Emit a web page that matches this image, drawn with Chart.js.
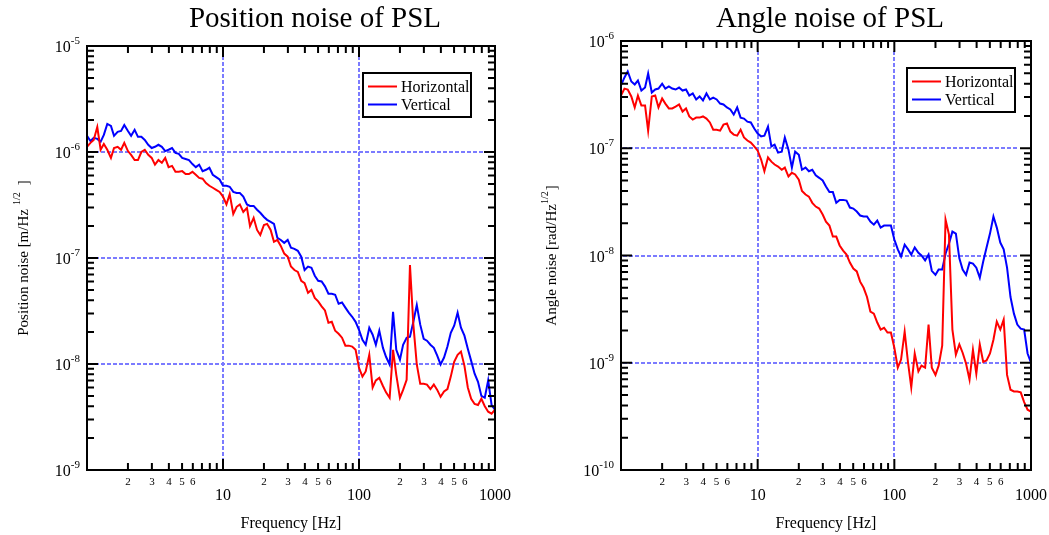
<!DOCTYPE html>
<html>
<head>
<meta charset="utf-8">
<title>PSL noise</title>
<script src="https://cdn.jsdelivr.net/npm/chart.js@4.4.1/dist/chart.umd.min.js"></script>
<style>
  html, body { margin: 0; padding: 0; background: #fff; }
  #wrap { position: relative; width: 1049px; height: 535px; overflow: hidden; }
  .panel { position: absolute; top: 0; height: 535px; }
</style>
</head>
<body>
<div id="wrap">
  <div class="panel" style="left:0;width:524px"><canvas id="chart-pos" width="524" height="535"></canvas></div>
  <div class="panel" style="left:524px;width:525px"><canvas id="chart-ang" width="525" height="535"></canvas></div>
</div>
<script>
// =================================================================
// PSL noise spectra (position / angle), log-log
// =================================================================

// Frequency bins [Hz], shared by all four curves
const frequency = [
    1.00, 1.06, 1.12, 1.19, 1.26, 1.33, 1.41, 1.50, 1.58, 1.68,
    1.78, 1.88, 2.00, 2.11, 2.24, 2.37, 2.51, 2.66, 2.82, 2.99,
    3.16, 3.35, 3.55, 3.76, 3.98, 4.22, 4.47, 4.73, 5.01, 5.31,
    5.62, 5.96, 6.31, 6.68, 7.08, 7.50, 7.94, 8.41, 8.91, 9.44,
    10.0, 10.6, 11.2, 11.9, 12.6, 13.3, 14.1, 15.0, 15.8, 16.8,
    17.8, 18.8, 20.0, 21.1, 22.4, 23.7, 25.1, 26.6, 28.2, 29.9,
    31.6, 33.5, 35.5, 37.6, 39.8, 42.2, 44.7, 47.3, 50.1, 53.1,
    56.2, 59.6, 63.1, 66.8, 70.8, 75.0, 79.4, 84.1, 89.1, 94.4,
    100, 106, 112, 119, 126, 133, 141, 150, 158, 168,
    178, 188, 200, 211, 224, 237, 251, 266, 282, 299,
    316, 335, 355, 376, 398, 422, 447, 473, 501, 531,
    562, 596, 631, 668, 708, 750, 794, 841, 891, 944,
    1000
];

// Position noise [m/Hz^1/2]
const posHorizontal = [
    1.12e-6, 1.22e-6, 1.30e-6, 1.72e-6, 1.05e-6, 1.19e-6, 1.05e-6, 8.8e-7, 1.09e-6, 1.12e-6,
    1.05e-6, 1.22e-6, 1.02e-6, 9.4e-7, 8.4e-7, 8.4e-7, 1.0e-6, 1.05e-6, 9.4e-7, 8.8e-7,
    7.6e-7, 8.4e-7, 7.9e-7, 8.8e-7, 7.2e-7, 7.4e-7, 6.5e-7, 6.5e-7, 6.6e-7, 6.2e-7,
    6.2e-7, 6.5e-7, 6.1e-7, 5.7e-7, 5.6e-7, 5.1e-7, 4.8e-7, 4.6e-7, 4.4e-7, 4.2e-7,
    3.8e-7, 3.2e-7, 4.0e-7, 2.6e-7, 3.04e-7, 3.2e-7, 2.72e-7, 2.97e-7, 2.0e-7, 2.39e-7,
    1.84e-7, 1.65e-7, 2.05e-7, 2.10e-7, 1.84e-7, 1.42e-7, 1.48e-7, 1.30e-7, 1.10e-7, 1.03e-7,
    8.3e-8, 7.7e-8, 7.4e-8, 6.1e-8, 5.8e-8, 4.7e-8, 5.0e-8, 4.2e-8, 3.9e-8, 3.5e-8,
    3.2e-8, 2.45e-8, 2.5e-8, 2.06e-8, 1.93e-8, 1.77e-8, 1.49e-8, 1.49e-8, 1.46e-8, 1.36e-8,
    9.2e-9, 7.6e-9, 8.5e-9, 1.22e-8, 6.0e-9, 7.0e-9, 7.4e-9, 6.2e-9, 5.4e-9, 4.8e-9,
    1.36e-8, 7.9e-9, 4.8e-9, 5.7e-9, 7.1e-9, 8.6e-8, 2.35e-8, 9.9e-9, 6.5e-9, 6.5e-9,
    6.4e-9, 5.8e-9, 6.4e-9, 5.7e-9, 4.9e-9, 5.5e-9, 5.8e-9, 7.6e-9, 1.05e-8, 1.22e-8,
    1.31e-8, 9.6e-9, 6.0e-9, 4.7e-9, 4.2e-9, 4.1e-9, 4.7e-9, 4.0e-9, 3.55e-9, 3.4e-9,
    3.7e-9
];
const posVertical = [
    1.42e-6, 1.27e-6, 1.36e-6, 1.33e-6, 1.25e-6, 1.45e-6, 1.84e-6, 1.76e-6, 1.42e-6, 1.55e-6,
    1.58e-6, 1.80e-6, 1.58e-6, 1.42e-6, 1.62e-6, 1.39e-6, 1.39e-6, 1.30e-6, 1.17e-6, 1.09e-6,
    1.12e-6, 1.17e-6, 1.12e-6, 1.02e-6, 1.05e-6, 1.09e-6, 9.8e-7, 9.6e-7, 8.8e-7, 8.6e-7,
    8.4e-7, 7.7e-7, 7.2e-7, 7.6e-7, 6.6e-7, 6.8e-7, 7.1e-7, 6.1e-7, 5.8e-7, 5.5e-7,
    4.8e-7, 4.8e-7, 4.7e-7, 4.2e-7, 4.1e-7, 4.1e-7, 3.8e-7, 3.2e-7, 3.1e-7, 3.1e-7,
    2.85e-7, 2.67e-7, 2.44e-7, 2.29e-7, 2.19e-7, 2.10e-7, 1.55e-7, 1.48e-7, 1.39e-7, 1.48e-7,
    1.25e-7, 1.22e-7, 1.17e-7, 1.03e-7, 7.7e-8, 8.3e-8, 8.1e-8, 6.8e-8, 6.1e-8, 6.0e-8,
    5.4e-8, 4.6e-8, 4.6e-8, 4.5e-8, 3.7e-8, 3.8e-8, 3.4e-8, 3.05e-8, 2.79e-8, 2.5e-8,
    2.1e-8, 1.69e-8, 1.52e-8, 2.2e-8, 1.89e-8, 1.52e-8, 2.06e-8, 1.42e-8, 1.17e-8, 9.9e-9,
    3.1e-8, 1.36e-8, 1.1e-8, 1.52e-8, 1.77e-8, 1.81e-8, 2.5e-8, 3.6e-8, 2.35e-8, 1.73e-8,
    1.66e-8, 1.52e-8, 1.42e-8, 1.2e-8, 9.9e-9, 1.15e-8, 1.46e-8, 1.97e-8, 2.3e-8, 3.05e-8,
    2.2e-8, 1.85e-8, 1.39e-8, 1.07e-8, 8.1e-9, 6.8e-9, 5.0e-9, 4.8e-9, 7.0e-9, 4.1e-9,
    3.7e-9
];

// Angle noise [rad/Hz^1/2]
const angHorizontal = [
    3.1e-7, 3.6e-7, 3.53e-7, 3.04e-7, 2.4e-7, 3.1e-7, 2.5e-7, 2.5e-7, 1.46e-7, 3.04e-7,
    3.1e-7, 2.4e-7, 2.91e-7, 2.61e-7, 2.35e-7, 2.35e-7, 2.45e-7, 2.56e-7, 2.2e-7, 2.35e-7,
    1.98e-7, 1.85e-7, 1.93e-7, 1.93e-7, 1.98e-7, 1.89e-7, 1.74e-7, 1.49e-7, 1.49e-7, 1.46e-7,
    1.66e-7, 1.7e-7, 1.43e-7, 1.34e-7, 1.31e-7, 1.49e-7, 1.26e-7, 1.18e-7, 1.13e-7, 1.04e-7,
    9.5e-8, 7.85e-8, 6.1e-8, 8.2e-8, 7.5e-8, 7.05e-8, 6.75e-8, 6.3e-8, 6.6e-8, 5.45e-8,
    5.9e-8, 5.7e-8, 5.1e-8, 4.0e-8, 3.7e-8, 3.54e-8, 3.1e-8, 2.86e-8, 2.74e-8, 2.41e-8,
    2.07e-8, 1.9e-8, 1.5e-8, 1.5e-8, 1.24e-8, 1.11e-8, 1.02e-8, 8.6e-9, 7.55e-9, 7.1e-9,
    5.7e-9, 5.0e-9, 4.1e-9, 3.0e-9, 2.87e-9, 2.37e-9, 2.04e-9, 2.12e-9, 1.91e-9, 1.91e-9,
    1.38e-9, 9.0e-10, 1.07e-9, 1.95e-9, 1.0e-9, 5.9e-10, 1.22e-9, 8.3e-10, 9.4e-10, 9.0e-10,
    2.27e-9, 9.0e-10, 7.7e-10, 9.4e-10, 1.44e-9, 2.16e-8, 1.57e-8, 2.04e-9, 1.19e-9, 1.48e-9,
    1.24e-9, 9.8e-10, 6.95e-10, 1.32e-9, 7.9e-10, 1.48e-9, 1.02e-9, 1.05e-9, 1.22e-9, 1.64e-9,
    2.42e-9, 2.04e-9, 2.52e-9, 7.7e-10, 5.6e-10, 5.4e-10, 5.4e-10, 5.3e-10, 4.3e-10, 3.65e-10,
    3.5e-10
];
const angVertical = [
    3.85e-7, 4.57e-7, 5.2e-7, 4.19e-7, 3.93e-7, 4.28e-7, 3.45e-7, 3.68e-7, 4.98e-7, 3.31e-7,
    3.53e-7, 3.6e-7, 4.0e-7, 3.6e-7, 3.77e-7, 3.6e-7, 3.53e-7, 3.68e-7, 3.45e-7, 3.53e-7,
    3.1e-7, 3.24e-7, 2.85e-7, 3.04e-7, 2.79e-7, 3.24e-7, 2.85e-7, 2.97e-7, 2.85e-7, 2.61e-7,
    2.56e-7, 2.4e-7, 2.3e-7, 2.06e-7, 2.4e-7, 1.93e-7, 1.89e-7, 1.77e-7, 1.74e-7, 1.53e-7,
    1.37e-7, 1.29e-7, 1.31e-7, 1.59e-7, 1.04e-7, 1.08e-7, 9.1e-8, 9.3e-8, 1.26e-7, 9.7e-8,
    6.6e-8, 9.3e-8, 8.7e-8, 6.3e-8, 6.6e-8, 6.1e-8, 6.3e-8, 5.6e-8, 5.3e-8, 5.0e-8,
    4.4e-8, 3.9e-8, 3.9e-8, 3.1e-8, 3.3e-8, 3.3e-8, 3.25e-8, 2.8e-8, 2.74e-8, 2.57e-8,
    2.36e-8, 2.31e-8, 2.31e-8, 2.07e-8, 1.94e-8, 2.12e-8, 1.82e-8, 1.9e-8, 1.9e-8, 1.9e-8,
    1.41e-8, 1.14e-8, 9.8e-9, 1.26e-8, 1.14e-8, 1.02e-8, 1.19e-8, 1.06e-8, 1.0e-8, 9.0e-9,
    1.02e-8, 7.2e-9, 6.6e-9, 7.4e-9, 7.4e-9, 1.04e-8, 1.29e-8, 1.67e-8, 1.6e-8, 9.4e-9,
    7.4e-9, 6.6e-9, 8.6e-9, 8.4e-9, 7.7e-9, 6.2e-9, 8.8e-9, 1.19e-8, 1.6e-8, 2.31e-8,
    1.82e-8, 1.32e-8, 1.14e-8, 7.7e-9, 4.1e-9, 2.87e-9, 2.27e-9, 2.08e-9, 2.04e-9, 1.22e-9,
    1.0e-9
];

// Tick labels
const xMajorLabels = [10, 100, 1000];
const xMinorLabels = [2, 3, 4, 5, 6];
const posExponents = [-9, -8, -7, -6, -5];
const angExponents = [-10, -9, -8, -7, -6];

const SERIF = "'Liberation Serif', 'Times New Roman', serif";
const GRID_BLUE = 'rgba(100, 100, 255, 0.85)';

function toPoints(values) {
    return frequency.map((f, i) => ({ x: f, y: values[i] }));
}

function pow10(e) {
    return parseFloat('1e' + e);
}

// 2..9 x 10^e for every decade between lo and hi
function minorValues(lo, hi) {
    const out = [];
    for (let e = lo; e < hi; e++) {
        for (let m = 2; m <= 9; m++) out.push(m * pow10(e));
    }
    return out;
}

// Frame, inward ticks, dashed decade grid, labels, legend, titles
const psdDecor = {
    id: 'psdDecor',
    beforeDatasetsDraw(chart, args, o) {
        const { ctx, chartArea: a } = chart;
        const x = chart.scales.x, y = chart.scales.y;
        ctx.save();
        ctx.strokeStyle = GRID_BLUE;
        ctx.lineWidth = 2;
        ctx.setLineDash([4, 2]);
        ctx.beginPath();
        xMajorLabels.forEach(v => {
            if (v >= x.max) return;
            const px = Math.round(x.getPixelForValue(v));
            ctx.moveTo(px, a.top + 10);
            ctx.lineTo(px, a.bottom - 11);
        });
        o.exponents.forEach(e => {
            const v = pow10(e);
            if (v <= y.min || v >= y.max) return;
            const py = Math.round(y.getPixelForValue(v));
            ctx.moveTo(a.left + 2, py);
            ctx.lineTo(a.right - 12, py);
        });
        ctx.stroke();
        ctx.restore();
    },
    afterDatasetsDraw(chart, args, o) {
        const { ctx, chartArea: a } = chart;
        const x = chart.scales.x, y = chart.scales.y;
        const lo = o.exponents[0], hi = o.exponents[o.exponents.length - 1];
        ctx.save();

        // ticks
        ctx.strokeStyle = '#000';
        ctx.lineWidth = 2;
        ctx.beginPath();
        const xTick = (v, len) => {
            const px = x.getPixelForValue(v);
            ctx.moveTo(px, a.top); ctx.lineTo(px, a.top + len);
            ctx.moveTo(px, a.bottom); ctx.lineTo(px, a.bottom - len);
        };
        const yTick = (v, len) => {
            const py = y.getPixelForValue(v);
            ctx.moveTo(a.left, py); ctx.lineTo(a.left + len, py);
            ctx.moveTo(a.right, py); ctx.lineTo(a.right - len, py);
        };
        minorValues(0, 3).forEach(v => xTick(v, 7));
        xMajorLabels.forEach(v => xTick(v, 11));
        minorValues(lo, hi).forEach(v => yTick(v, 7));
        o.exponents.forEach(e => yTick(pow10(e), 11));
        ctx.stroke();
        ctx.strokeRect(a.left, a.top, a.right - a.left, a.bottom - a.top);

        // y tick labels: 10 with superscript exponent
        ctx.fillStyle = '#000';
        ctx.textBaseline = 'alphabetic';
        o.exponents.forEach(e => {
            const py = y.getPixelForValue(pow10(e));
            const sup = String(e);
            const right = a.left - 7;
            ctx.font = '11px ' + SERIF;
            const ws = ctx.measureText(sup).width;
            ctx.textAlign = 'left';
            ctx.fillText(sup, right - ws, py - 2);
            ctx.font = '16px ' + SERIF;
            ctx.textAlign = 'right';
            ctx.fillText('10', right - ws, py + 6);
        });

        // x tick labels
        ctx.textAlign = 'center';
        ctx.textBaseline = 'middle';
        ctx.font = '11px ' + SERIF;
        [1, 10, 100].forEach(d => {
            xMinorLabels.forEach(m => ctx.fillText(String(m), x.getPixelForValue(d * m), a.bottom + 12));
        });
        ctx.font = '16px ' + SERIF;
        xMajorLabels.forEach(v => ctx.fillText(String(v), x.getPixelForValue(v), a.bottom + 26));

        // axis titles
        ctx.textBaseline = 'alphabetic';
        ctx.fillText('Frequency [Hz]', (a.left + a.right) / 2, 528);

        const t = o.yTitle;
        ctx.save();
        ctx.translate(o.yTitleX, (a.top + a.bottom) / 2);
        ctx.rotate(-Math.PI / 2);
        ctx.textAlign = 'left';
        ctx.font = '15px ' + SERIF;
        const wMain = ctx.measureText(t.main).width;
        const wEnd = ctx.measureText(t.end).width;
        ctx.font = '10px ' + SERIF;
        const wSup = ctx.measureText(t.sup).width;
        let cx = -(wMain + t.gaps[0] + wSup + t.gaps[1] + wEnd) / 2;
        ctx.font = '15px ' + SERIF;
        ctx.fillText(t.main, cx, 5);
        cx += wMain + t.gaps[0];
        ctx.font = '10px ' + SERIF;
        ctx.fillText(t.sup, cx, -3);
        cx += wSup + t.gaps[1];
        ctx.font = '15px ' + SERIF;
        ctx.fillText(t.end, cx, 5);
        ctx.restore();

        // chart title
        ctx.textAlign = 'center';
        ctx.font = '29px ' + SERIF;
        ctx.fillText(o.title, o.titleX, 27);

        // legend
        const lg = o.legend;
        ctx.lineWidth = 2;
        ctx.strokeStyle = '#000';
        ctx.strokeRect(lg.left, lg.top, lg.width, lg.height);
        ctx.textAlign = 'left';
        ctx.textBaseline = 'middle';
        ctx.font = '16px ' + SERIF;
        chart.data.datasets.forEach((ds, i) => {
            const ly = lg.top + 13.5 + i * 18;
            ctx.strokeStyle = ds.borderColor;
            ctx.beginPath();
            ctx.moveTo(lg.left + 5, ly);
            ctx.lineTo(lg.left + 34, ly);
            ctx.stroke();
            ctx.fillStyle = '#000';
            ctx.fillText(ds.label, lg.left + 38, ly + 1);
        });

        ctx.restore();
    }
};

function criarGraficoPSD(canvasId, cfg) {
    const ctx = document.getElementById(canvasId).getContext('2d');
    return new Chart(ctx, {
        type: 'line',
        data: {
            datasets: [
                { label: 'Horizontal', data: toPoints(cfg.horizontal), borderColor: '#ff0000', borderWidth: 2, pointRadius: 0, tension: 0 },
                { label: 'Vertical', data: toPoints(cfg.vertical), borderColor: '#0000ff', borderWidth: 2, pointRadius: 0, tension: 0 }
            ]
        },
        options: {
            responsive: false,
            animation: false,
            events: [],
            layout: { padding: { top: cfg.top, right: cfg.right, left: 0, bottom: 0 } },
            scales: {
                x: {
                    type: 'logarithmic', min: 1, max: 1000,
                    ticks: { display: false }, grid: { display: false }, border: { display: false },
                    afterFit: s => { s.height = 65; }
                },
                y: {
                    type: 'logarithmic', min: pow10(cfg.exponents[0]), max: pow10(cfg.exponents[cfg.exponents.length - 1]),
                    ticks: { display: false }, grid: { display: false }, border: { display: false },
                    afterFit: s => { s.width = cfg.axisWidth; }
                }
            },
            plugins: {
                legend: { display: false },
                tooltip: { enabled: false },
                psdDecor: {
                    exponents: cfg.exponents,
                    title: cfg.title,
                    titleX: cfg.titleX,
                    yTitle: cfg.yTitle,
                    yTitleX: cfg.yTitleX,
                    legend: cfg.legend
                }
            }
        },
        plugins: [psdDecor]
    });
}

criarGraficoPSD('chart-pos', {
    horizontal: posHorizontal,
    vertical: posVertical,
    exponents: posExponents,
    top: 46, right: 29, axisWidth: 87,
    title: 'Position noise of PSL', titleX: 315,
    yTitle: { main: 'Position noise [m/Hz', sup: '1/2', end: ']', gaps: [4, 7] },
    yTitleX: 23,
    legend: { left: 363, top: 73, width: 108, height: 44 }
});

criarGraficoPSD('chart-ang', {
    horizontal: angHorizontal,
    vertical: angVertical,
    exponents: angExponents,
    top: 41, right: 18, axisWidth: 97,
    title: 'Angle noise of PSL', titleX: 306,
    yTitle: { main: 'Angle noise [rad/Hz', sup: '1/2', end: ']', gaps: [0, 1] },
    yTitleX: 27,
    legend: { left: 383, top: 68, width: 108, height: 44 }
});
</script>
</body>
</html>
